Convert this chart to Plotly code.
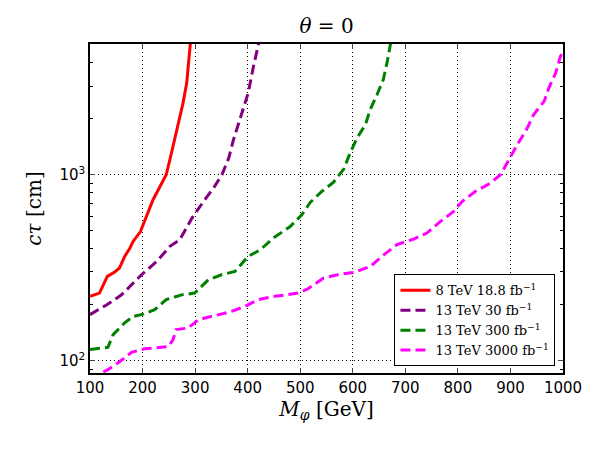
import plotly.graph_objects as go

# 8 TeV 18.8 fb^-1
m_8 = [100, 118, 133, 147, 156, 166, 176, 182, 196, 207, 220, 230, 245, 255, 268, 277, 284, 291]
ct_8 = [222, 231, 284, 300, 315, 364, 404, 438, 495, 597, 734, 830, 1000, 1309, 1857, 2427, 3110, 5100]

# 13 TeV 30 fb^-1
m_30 = [100, 132, 160, 198, 227, 252, 271, 294, 316, 335, 351, 364, 373, 386, 401, 411, 421]
ct_30 = [177, 200, 226, 290, 342, 412, 448, 585, 718, 848, 1000, 1230, 1543, 2017, 2752, 3820, 5100]

# 13 TeV 300 fb^-1
m_300 = [100, 134, 144, 166, 182, 201, 223, 245, 274, 299, 325, 350, 376, 401, 424, 449, 481, 503,
         519, 541, 563, 583, 595, 608, 624, 633, 646, 658, 665, 672]
ct_300 = [115, 118, 138, 160, 173, 178, 188, 213, 226, 231, 272, 290, 302, 364, 395, 457, 527, 609,
          709, 813, 910, 1075, 1309, 1574, 1857, 2234, 2692, 3243, 3981, 5100]

# 13 TeV 3000 fb^-1
m_3000 = [100, 134, 157, 179, 204, 249, 258, 264, 287, 306, 338, 369, 395, 420, 452, 496, 514,
          544, 576, 602, 633, 659, 684, 716, 741, 767, 792, 808, 833, 862, 881, 900, 913, 932,
          944, 964, 973, 986, 995, 1000]
ct_3000 = [80, 89.5, 99, 111, 116, 119, 130, 147, 150, 166, 175, 184, 196, 213, 222, 231, 243,
           278, 292, 298, 321, 371, 421, 451, 486, 561, 635, 718, 813, 902, 1000, 1254, 1449, 1782,
           2103, 2480, 2924, 3520, 4325, 4600]

x_ticks = list(range(100, 1001, 100))
y_ticks = [100, 1000]
y_ticktext = ["10<sup>2</sup>", "10<sup>3</sup>"]
y_minor = [90, 200, 300, 400, 500, 600, 700, 800, 900, 2000, 3000, 4000, 5000]

series = [
    ("8 TeV 18.8 fb<sup>−1</sup>", m_8, ct_8, "red", "solid"),
    ("13 TeV 30 fb<sup>−1</sup>", m_30, ct_30, "purple", "10px,5px"),
    ("13 TeV 300 fb<sup>−1</sup>", m_300, ct_300, "green", "10px,5px"),
    ("13 TeV 3000 fb<sup>−1</sup>", m_3000, ct_3000, "magenta", "10px,5px"),
]

fig = go.Figure()
for name, xs, ys, col, dash in series:
    fig.add_trace(go.Scatter(x=xs, y=ys, mode="lines", name=name,
                             line=dict(color=col, width=3, dash=dash)))

# page body adds an 8px offset, margins below make up for it
serif = "DejaVu Serif"
fig.update_layout(
    width=600, height=450,
    margin=dict(l=82, r=45, t=36, b=85),
    paper_bgcolor="white", plot_bgcolor="white",
    title=dict(text="<i>θ</i> = 0", x=0.5, xref="paper", xanchor="center",
               y=1 - 18 / 450, yanchor="middle",
               font=dict(family=serif, size=20, color="black")),
    font=dict(family="DejaVu Sans", size=15, color="black"),
    legend=dict(x=0.984, y=0.02, xanchor="right", yanchor="bottom",
                bgcolor="white", bordercolor="black", borderwidth=1,
                font=dict(family=serif, size=13, color="black"),
                tracegroupgap=0),
)
fig.update_xaxes(
    range=[100, 1000], tickvals=x_ticks, ticks="inside", ticklen=5,
    showline=True, linecolor="black", linewidth=1.5, mirror="allticks",
    showgrid=True, gridcolor="black", griddash="1px,3px", gridwidth=1,
    zeroline=False, tickfont=dict(size=15),
    title=dict(text="<i>M</i><sub><i>φ</i></sub> [GeV]",
               font=dict(family=serif, size=20), standoff=4),
)
fig.update_yaxes(
    type="log", range=[1.934, 3.703], tickvals=y_ticks, ticktext=y_ticktext,
    ticks="inside", ticklen=5,
    showline=True, linecolor="black", linewidth=1.5, mirror="allticks",
    showgrid=True, gridcolor="black", griddash="1px,3px", gridwidth=1,
    zeroline=False, tickfont=dict(size=15),
    minor=dict(tickvals=y_minor, ticks="inside", ticklen=3, tickcolor="black", showgrid=False),
    title=dict(text="<i>cτ</i> [cm]", font=dict(family=serif, size=20), standoff=12),
)

fig.write_html("out.html")
